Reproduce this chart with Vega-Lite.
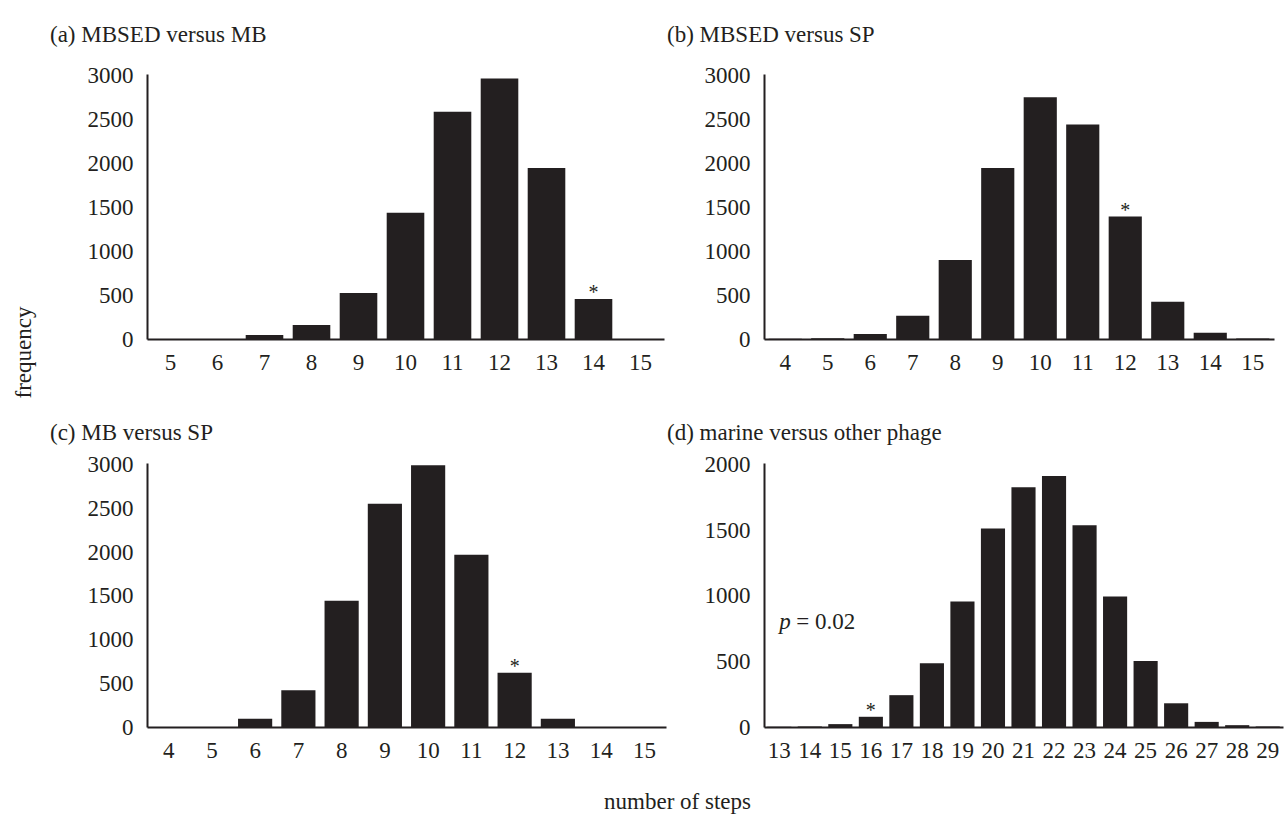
{
  "$schema": "https://vega.github.io/schema/vega-lite/v6.json",
  "background": "white",
  "padding": {"left": 12, "top": 23, "right": 2, "bottom": 2},
  "config": {
    "font": "Liberation Serif",
    "view": {"stroke": null},
    "axis": {
      "labelFont": "Liberation Serif",
      "labelFontSize": 23,
      "labelColor": "#231f20",
      "domainColor": "#231f20",
      "domainWidth": 2,
      "ticks": false,
      "grid": false,
      "labelOverlap": false,
      "titleFont": "Liberation Serif",
      "titleFontSize": 23,
      "titleFontWeight": "normal",
      "titleColor": "#231f20"
    },
    "axisX": {"labelAngle": 0, "labelPadding": 12},
    "axisY": {"labelPadding": 14, "format": "d"},
    "title": {"font": "Liberation Serif", "fontSize": 23, "fontWeight": "normal", "color": "#231f20"},
    "text": {"font": "Liberation Serif", "color": "#231f20"}
  },
  "datasets": {
    "a": [
      {"steps": 5, "freq": 0, "star": ""},
      {"steps": 6, "freq": 0, "star": ""},
      {"steps": 7, "freq": 45, "star": ""},
      {"steps": 8, "freq": 160, "star": ""},
      {"steps": 9, "freq": 525, "star": ""},
      {"steps": 10, "freq": 1440, "star": ""},
      {"steps": 11, "freq": 2590, "star": ""},
      {"steps": 12, "freq": 2970, "star": ""},
      {"steps": 13, "freq": 1950, "star": ""},
      {"steps": 14, "freq": 455, "star": "*"},
      {"steps": 15, "freq": 0, "star": ""}
    ],
    "b": [
      {"steps": 4, "freq": 3, "star": ""},
      {"steps": 5, "freq": 8, "star": ""},
      {"steps": 6, "freq": 58, "star": ""},
      {"steps": 7, "freq": 265, "star": ""},
      {"steps": 8, "freq": 900, "star": ""},
      {"steps": 9, "freq": 1950, "star": ""},
      {"steps": 10, "freq": 2755, "star": ""},
      {"steps": 11, "freq": 2445, "star": ""},
      {"steps": 12, "freq": 1395, "star": "*"},
      {"steps": 13, "freq": 425, "star": ""},
      {"steps": 14, "freq": 70, "star": ""},
      {"steps": 15, "freq": 5, "star": ""}
    ],
    "c": [
      {"steps": 4, "freq": 0, "star": ""},
      {"steps": 5, "freq": 0, "star": ""},
      {"steps": 6, "freq": 95, "star": ""},
      {"steps": 7, "freq": 420, "star": ""},
      {"steps": 8, "freq": 1445, "star": ""},
      {"steps": 9, "freq": 2555, "star": ""},
      {"steps": 10, "freq": 2995, "star": ""},
      {"steps": 11, "freq": 1970, "star": ""},
      {"steps": 12, "freq": 620, "star": "*"},
      {"steps": 13, "freq": 95, "star": ""},
      {"steps": 14, "freq": 0, "star": ""},
      {"steps": 15, "freq": 0, "star": ""}
    ],
    "d": [
      {"steps": 13, "freq": 2, "star": ""},
      {"steps": 14, "freq": 4, "star": ""},
      {"steps": 15, "freq": 22, "star": ""},
      {"steps": 16, "freq": 78, "star": "*"},
      {"steps": 17, "freq": 243, "star": ""},
      {"steps": 18, "freq": 487, "star": ""},
      {"steps": 19, "freq": 958, "star": ""},
      {"steps": 20, "freq": 1516, "star": ""},
      {"steps": 21, "freq": 1830, "star": ""},
      {"steps": 22, "freq": 1916, "star": ""},
      {"steps": 23, "freq": 1539, "star": ""},
      {"steps": 24, "freq": 997, "star": ""},
      {"steps": 25, "freq": 503, "star": ""},
      {"steps": 26, "freq": 181, "star": ""},
      {"steps": 27, "freq": 39, "star": ""},
      {"steps": 28, "freq": 14, "star": ""},
      {"steps": 29, "freq": 3, "star": ""}
    ]
  },
  "title": {"text": "number of steps", "orient": "bottom", "anchor": "middle", "offset": 29, "dx": 30},
  "bounds": "flush",
  "columns": 2,
  "spacing": {"row": 124, "column": 98},
  "concat": [
    {
      "width": 517, "height": 265,
      "title": {"text": "(a) MBSED versus MB", "anchor": "start", "frame": "group", "dx": -97, "offset": 18},
      "data": {"name": "a"},
      "layer": [
        {
          "mark": {"type": "bar", "color": "#231f20"},
          "encoding": {
            "x": {"field": "steps", "type": "ordinal", "scale": {"paddingInner": 0.2, "paddingOuter": 0.1}, "title": null},
            "y": {"field": "freq", "type": "quantitative", "scale": {"domain": [0, 3020], "nice": false},
                  "axis": {"values": [0, 500, 1000, 1500, 2000, 2500, 3000], "title": "frequency", "titleX": -124, "titleY": 278, "titleAngle": -90, "titleAlign": "center", "titleBaseline": "middle"}}
          }
        },
        {
          "transform": [{"filter": "datum.star == '*'"}],
          "mark": {"type": "text", "fontSize": 20, "baseline": "alphabetic", "dy": 0},
          "encoding": {
            "x": {"field": "steps", "type": "ordinal"},
            "y": {"field": "freq", "type": "quantitative"},
            "text": {"field": "star"}
          }
        }
      ]
    },
    {
      "width": 510, "height": 265,
      "title": {"text": "(b) MBSED versus SP", "anchor": "start", "frame": "group", "dx": -97, "offset": 18},
      "data": {"name": "b"},
      "layer": [
        {
          "mark": {"type": "bar", "color": "#231f20"},
          "encoding": {
            "x": {"field": "steps", "type": "ordinal", "scale": {"paddingInner": 0.22, "paddingOuter": 0.11}, "title": null},
            "y": {"field": "freq", "type": "quantitative", "scale": {"domain": [0, 3020], "nice": false},
                  "axis": {"values": [0, 500, 1000, 1500, 2000, 2500, 3000]}, "title": null}
          }
        },
        {
          "transform": [{"filter": "datum.star == '*'"}],
          "mark": {"type": "text", "fontSize": 20, "baseline": "alphabetic", "dy": 0},
          "encoding": {
            "x": {"field": "steps", "type": "ordinal"},
            "y": {"field": "freq", "type": "quantitative"},
            "text": {"field": "star"}
          }
        }
      ]
    },
    {
      "width": 519, "height": 264,
      "title": {"text": "(c) MB versus SP", "anchor": "start", "frame": "group", "dx": -97, "offset": 9},
      "data": {"name": "c"},
      "layer": [
        {
          "mark": {"type": "bar", "color": "#231f20"},
          "encoding": {
            "x": {"field": "steps", "type": "ordinal", "scale": {"paddingInner": 0.21, "paddingOuter": 0.105}, "title": null},
            "y": {"field": "freq", "type": "quantitative", "scale": {"domain": [0, 3020], "nice": false},
                  "axis": {"values": [0, 500, 1000, 1500, 2000, 2500, 3000]}, "title": null}
          }
        },
        {
          "transform": [{"filter": "datum.star == '*'"}],
          "mark": {"type": "text", "fontSize": 20, "baseline": "alphabetic", "dy": 0},
          "encoding": {
            "x": {"field": "steps", "type": "ordinal"},
            "y": {"field": "freq", "type": "quantitative"},
            "text": {"field": "star"}
          }
        }
      ]
    },
    {
      "width": 519, "height": 264,
      "title": {"text": "(d) marine versus other phage", "anchor": "start", "frame": "group", "dx": -97, "offset": 9},
      "layer": [
        {
          "data": {"name": "d"},
          "mark": {"type": "bar", "color": "#231f20"},
          "encoding": {
            "x": {"field": "steps", "type": "ordinal", "scale": {"paddingInner": 0.21, "paddingOuter": 0.105}, "title": null},
            "y": {"field": "freq", "type": "quantitative", "scale": {"domain": [0, 2015], "nice": false},
                  "axis": {"values": [0, 500, 1000, 1500, 2000]}, "title": null}
          }
        },
        {
          "data": {"name": "d"},
          "transform": [{"filter": "datum.star == '*'"}],
          "mark": {"type": "text", "fontSize": 20, "baseline": "alphabetic", "dy": 0},
          "encoding": {
            "x": {"field": "steps", "type": "ordinal"},
            "y": {"field": "freq", "type": "quantitative"},
            "text": {"field": "star"}
          }
        },
        {
          "data": {"values": [{"steps": 13, "freq": 800, "p": "p", "rest": "= 0.02"}]},
          "mark": {"type": "text", "fontSize": 23, "fontStyle": "italic", "align": "left", "baseline": "middle"},
          "encoding": {
            "x": {"field": "steps", "type": "ordinal"},
            "y": {"field": "freq", "type": "quantitative"},
            "text": {"field": "p"}
          }
        },
        {
          "data": {"values": [{"steps": 13, "freq": 800, "p": "p", "rest": "= 0.02"}]},
          "mark": {"type": "text", "fontSize": 23, "align": "left", "baseline": "middle", "dx": 17},
          "encoding": {
            "x": {"field": "steps", "type": "ordinal"},
            "y": {"field": "freq", "type": "quantitative"},
            "text": {"field": "rest"}
          }
        }
      ]
    }
  ]
}
